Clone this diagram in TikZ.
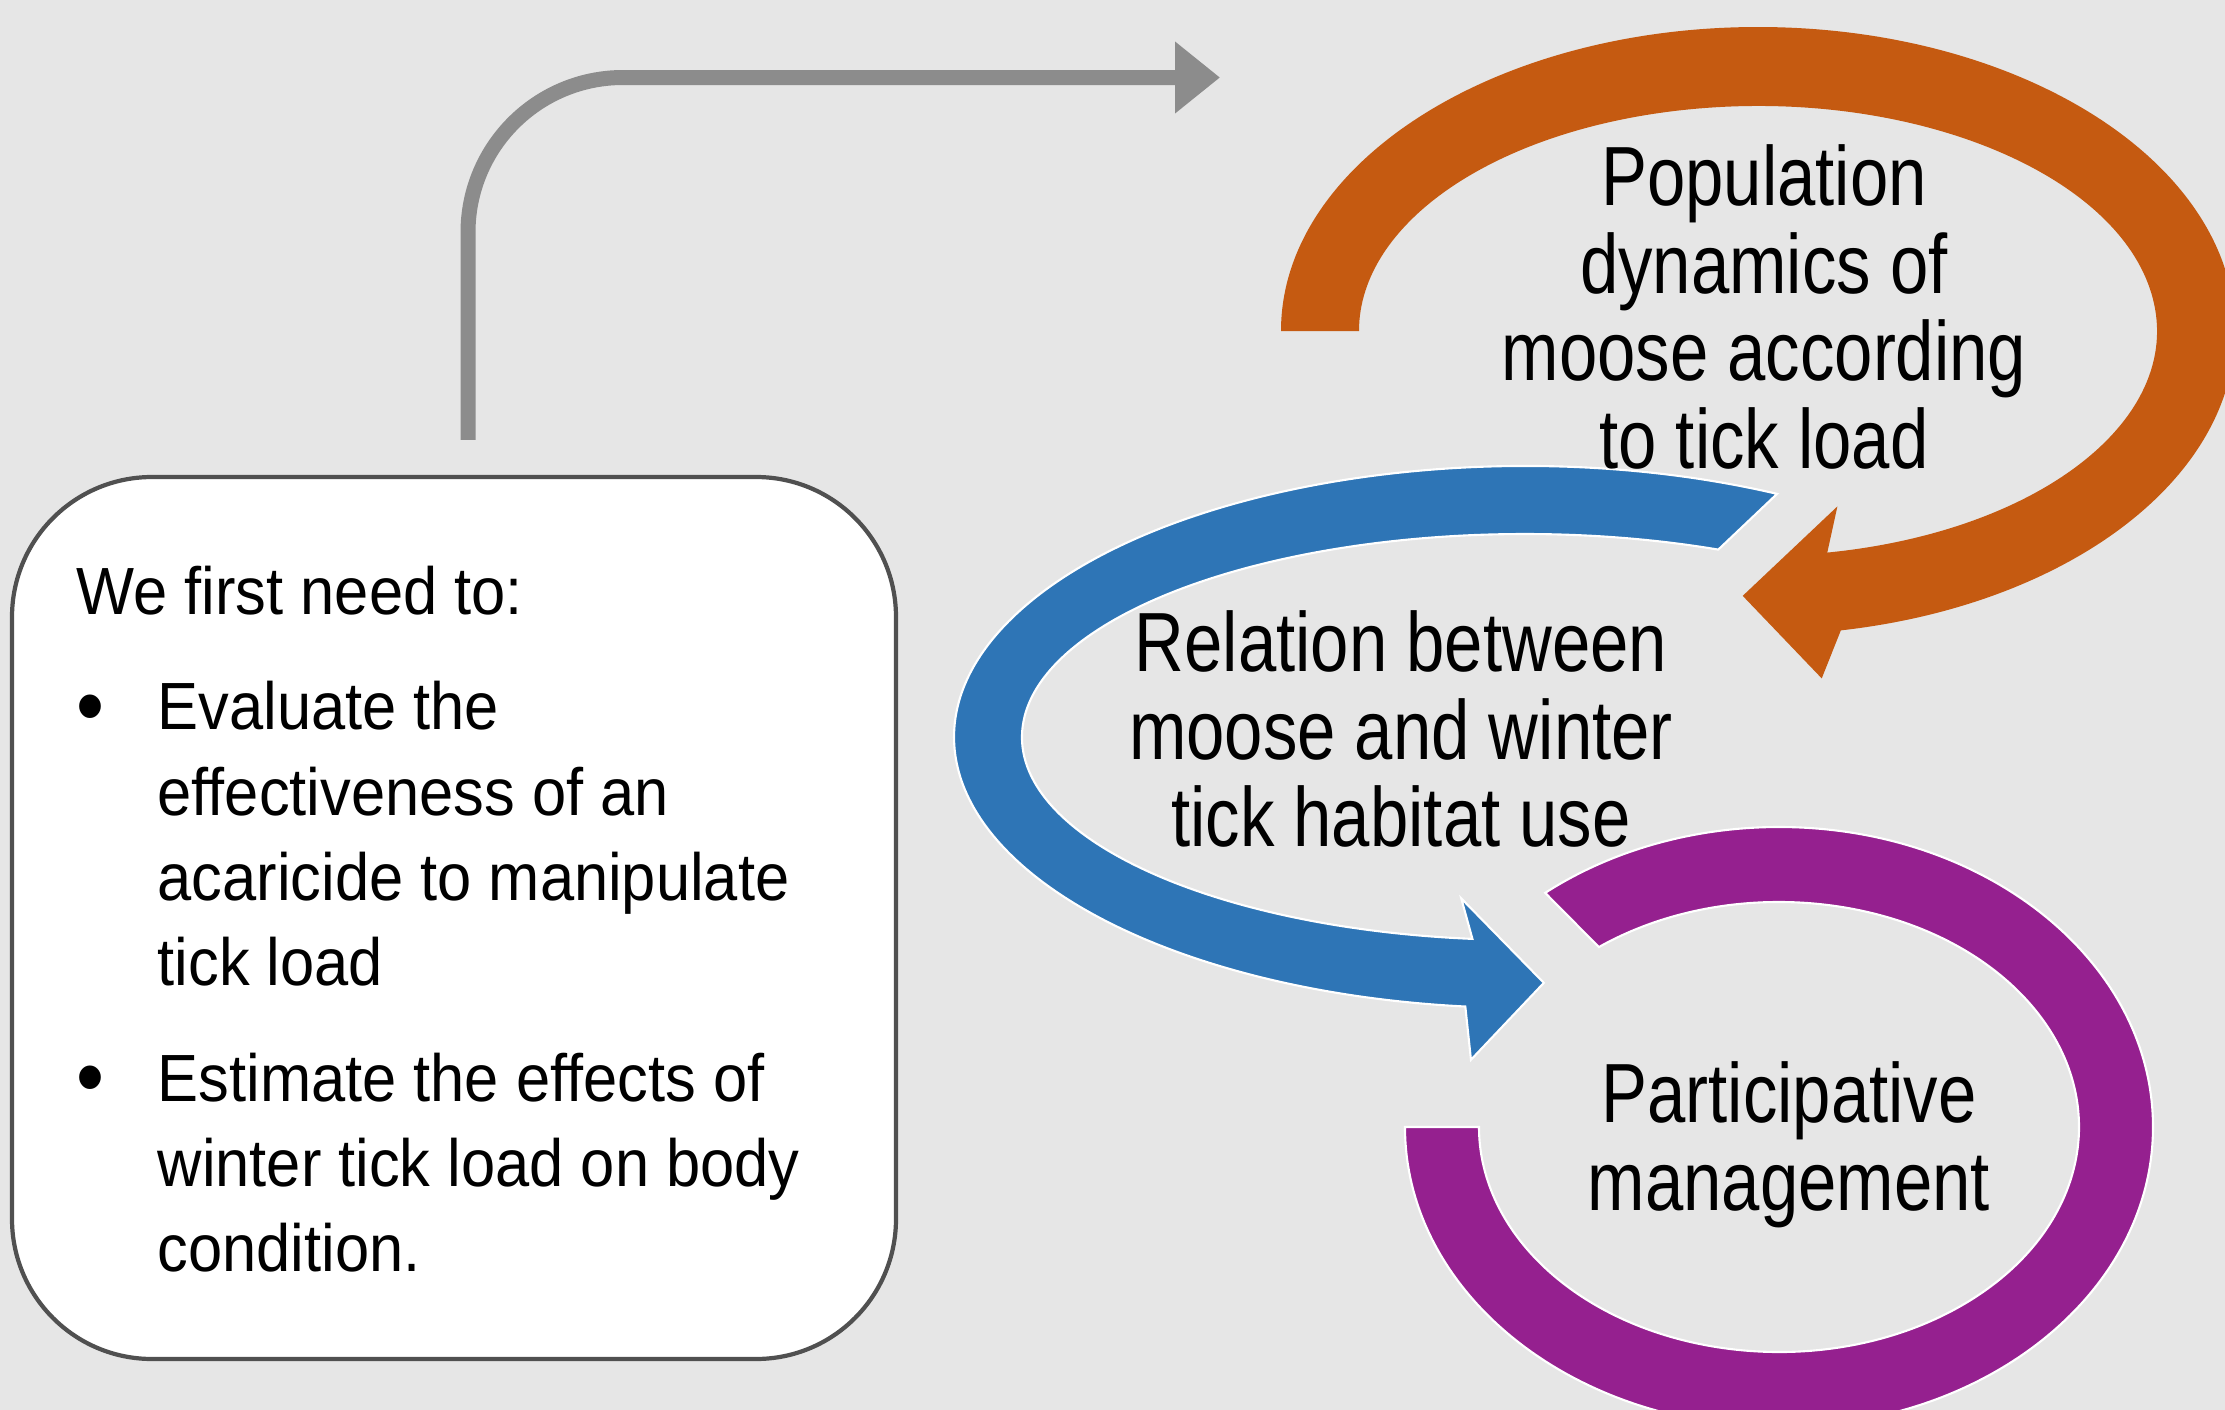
\documentclass[tikz,border=0pt]{standalone}
\usepackage{fontspec}
\newfontfamily\labelfont[FakeStretch=0.82]{Liberation Sans}
\newfontfamily\boxfont[FakeStretch=0.92]{Liberation Sans}
\usetikzlibrary{calc,arrows.meta}

\definecolor{slide}{HTML}{E6E6E6}
\definecolor{rust}{HTML}{C55A11}
\definecolor{steel}{HTML}{2E75B6}
\definecolor{plum}{HTML}{95208F}
\definecolor{frame}{HTML}{505050}
\definecolor{pathgrey}{HTML}{8C8C8C}

\tikzset{
  todobox/.style={draw=frame, line width=1.2pt, fill=white, rounded corners=14mm,
    minimum width=88.4mm, minimum height=88.2mm},
  boxtext/.style={font=\boxfont\fontsize{19}{24.2}\selectfont, inner sep=0pt, anchor=base west},
  cyclelabel/.style={font=\labelfont\fontsize{23.9}{25}\selectfont, align=center, inner sep=0pt},
  pathline/.style={draw=pathgrey, line width=1.5mm, rounded corners=15.5mm,
    -{Triangle[length=4.5mm,width=6.9mm]}},
  ring/.style={draw=white, line width=0.6pt}
}

\begin{document}
\begin{tikzpicture}[x=0.1mm,y=0.1mm]
    \fill[slide] (0,0) rectangle (2225,-1410);
    \useasboundingbox (0,0) rectangle (2225,-1410);
    \clip (0,0) rectangle (2225,-1410);

    % the list on the left
    \node[todobox] (box) at (454,-918) {};
    \node[boxtext] (todo) at (76,-614) {%
        \begin{tabular}[t]{@{}p{8.1mm}@{}l@{}}
            \multicolumn{2}{@{}l@{}}{We first need to:}\\[8.8pt]
            \raisebox{-0.08em}{\scalebox{1.3}{\textbullet}} & Evaluate the\\
            & effectiveness of an\\
            & acaricide to manipulate\\
            & tick load\\[8.8pt]
            \raisebox{-0.08em}{\scalebox{1.3}{\textbullet}} & Estimate the effects of\\
            & winter tick load on body\\
            & condition.
        \end{tabular}};
    \coordinate (goal) at (1220,-77.5);
    \draw[pathline] ([xshift=1.4mm,yshift=3.5mm]box.north) |- (goal);

    % the three circular arrows
    \coordinate (oc) at (1758,-331);
    \coordinate (bc) at (1525,-737);
    \coordinate (pc) at (1779,-1127);
    \path[fill=rust] ($(oc)+(180:477 and 304)$)
            arc[start angle=180, end angle=-80, x radius=477, y radius=304]
        -- ($(oc)+(-83:523 and 350)$) -- ($(oc)+(-92:438 and 265)$)
        -- ($(oc)+(-77:353 and 180)$) -- ($(oc)+(-80:399 and 225)$)
            arc[start angle=-80, end angle=180, x radius=399, y radius=225] -- cycle;
    \path[fill=steel, ring] ($(bc)+(63.8:571 and 271)$)
            arc[start angle=63.8, end angle=264, x radius=571, y radius=271]
        -- ($(bc)+(265:620 and 324)$) -- ($(bc)+(272:540 and 246)$)
        -- ($(bc)+(262:458 and 163)$) -- ($(bc)+(264:503 and 203)$)
            arc[start angle=264, end angle=67.4, x radius=503, y radius=203] -- cycle;
    \path[fill=plum, ring] ($(pc)+(180:374 and 300)$)
            arc[start angle=180, end angle=488.7, x radius=374, y radius=300]
        -- ($(pc)+(486.9:300 and 225)$)
            arc[start angle=486.9, end angle=180, x radius=300, y radius=225] -- cycle;

    % labels of the cycle
    \node[cyclelabel] (popdyn) at (1764,-307) {Population\\dynamics of\\moose according\\to tick load};
    \node[cyclelabel] (habitat) at (1401,-729) {Relation between\\moose and winter\\tick habitat use};
    \node[cyclelabel] (manage) at (1789,-1145) {Participative\\management};
\end{tikzpicture}
\end{document}
